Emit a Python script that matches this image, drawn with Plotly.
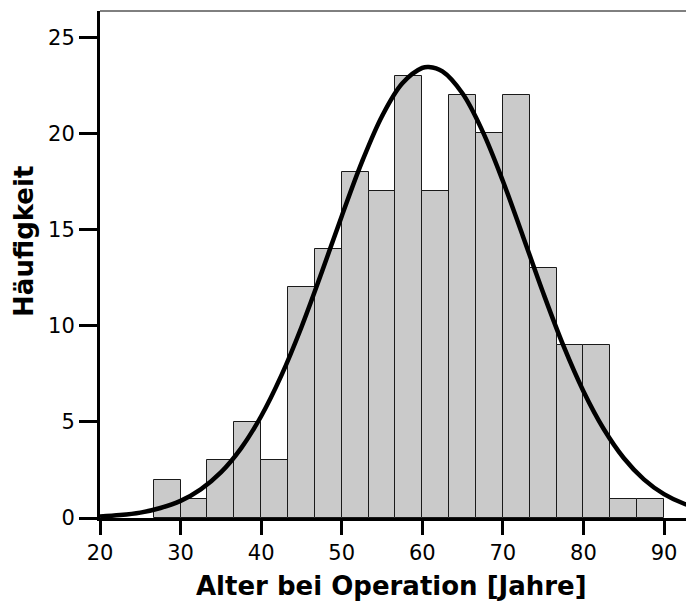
import plotly.graph_objects as go

# ---- data ----
bin_edges = [26.67, 30.0, 33.33, 36.67, 40.0, 43.33, 46.67, 50.0, 53.33, 56.67,
             60.0, 63.33, 66.67, 70.0, 73.33, 76.67, 80.0, 83.33, 86.67, 90.0]
counts = [2, 1, 3, 5, 3, 12, 14, 18, 17, 23, 17, 22, 20, 22, 13, 9, 9, 1, 1]

curve_x = [20, 22.5, 25, 27.5, 30, 32.5, 35, 37.5, 40, 42.5, 45, 47.5, 50, 52.5,
           55, 57.5, 60, 60.8, 62.5, 65, 67.5, 70, 72.5, 75, 77.5, 80, 82.5, 85,
           87.5, 90, 92.5, 95]
curve_y = [0.08, 0.15, 0.28, 0.52, 0.89, 1.49, 2.37, 3.62, 5.29, 7.40, 9.92, 12.75,
           15.69, 18.50, 20.89, 22.59, 23.40, 23.45, 23.22, 22.07, 20.09, 17.52,
           14.64, 11.71, 8.97, 6.59, 4.64, 3.12, 2.01, 1.24, 0.74, 0.42]

x_ticks = [20, 30, 40, 50, 60, 70, 80, 90]
y_ticks = [0, 5, 10, 15, 20, 25]

x_title = "Alter bei Operation [Jahre]"
y_title = "Häufigkeit"

centers = [(a + b) / 2 for a, b in zip(bin_edges[:-1], bin_edges[1:])]
widths = [b - a for a, b in zip(bin_edges[:-1], bin_edges[1:])]

fig = go.Figure()
fig.add_trace(go.Bar(
    x=centers, y=counts, width=widths,
    marker=dict(color="#cacaca", line=dict(color="#1a1a1a", width=1)),
    showlegend=False, hoverinfo="skip",
))
fig.add_trace(go.Scatter(
    x=curve_x, y=curve_y, mode="lines",
    line=dict(color="black", width=4.5, shape="spline", smoothing=1.0),
    showlegend=False, hoverinfo="skip",
))

tickfont = dict(family="DejaVu Sans", size=21, color="black")
fig.update_layout(
    width=686, height=603,
    margin=dict(l=100, r=0, t=11, b=85),
    paper_bgcolor="white", plot_bgcolor="white",
    bargap=0,
    xaxis=dict(range=[20, 92.73], tickvals=x_ticks, ticks="outside", ticklen=14,
               tickwidth=3, tickcolor="black", showline=True, linewidth=3,
               linecolor="black", showgrid=False, zeroline=False, tickfont=tickfont),
    yaxis=dict(range=[0, 26.36], tickvals=y_ticks, ticks="outside", ticklen=18,
               tickwidth=3, tickcolor="black", showline=True, linewidth=3,
               linecolor="black", showgrid=False, zeroline=False, tickfont=tickfont),
    shapes=[dict(type="line", xref="paper", yref="paper", x0=0, x1=1, y0=1, y1=1,
                 line=dict(color="black", width=1))],
    annotations=[
        dict(text=x_title, xref="paper", yref="paper", x=0.4966, y=-0.134,
             xanchor="center", yanchor="middle", showarrow=False,
             font=dict(family="DejaVu Sans", size=26, color="black", weight="bold")),
        dict(text=y_title, xref="paper", yref="paper", x=-0.131, y=0.545,
             xanchor="center", yanchor="middle", textangle=-90, showarrow=False,
             font=dict(family="DejaVu Sans", size=26, color="black", weight="bold")),
    ],
)

fig.write_html("out.html")
